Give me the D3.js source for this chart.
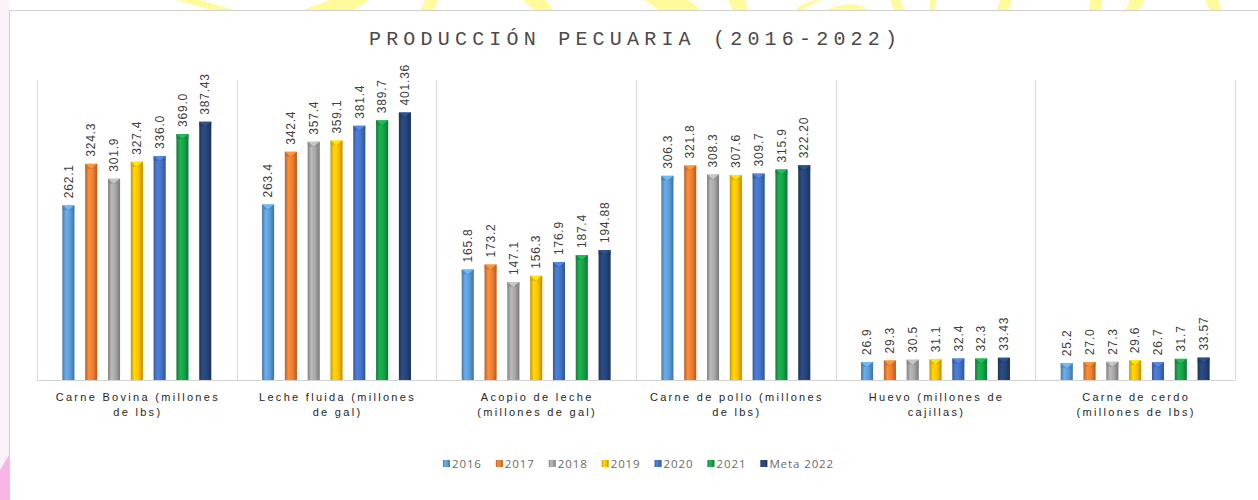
<!DOCTYPE html>
<html>
<head>
<meta charset="utf-8">
<script src="https://cdn.jsdelivr.net/npm/d3@7"></script>
<style>
  body { margin: 0; background: #fff; }
  svg { display: block; }
</style>
</head>
<body>
<div class="chart"></div>
<script>
var svgWidth = 1258;
var svgHeight = 500;

// data
var categories = [
  "Carne Bovina (millones de lbs)",
  "Leche fluida (millones de gal)",
  "Acopio de leche (millones de gal)",
  "Carne de pollo (millones de lbs)",
  "Huevo (millones de cajillas)",
  "Carne de cerdo (millones de lbs)"
];
var categoryLines = [
  ["Carne Bovina (millones", "de lbs)"],
  ["Leche fluida (millones", "de gal)"],
  ["Acopio de leche", "(millones de gal)"],
  ["Carne de pollo (millones", "de lbs)"],
  ["Huevo (millones de", "cajillas)"],
  ["Carne de cerdo", "(millones de lbs)"]
];
var seriesNames = ["2016", "2017", "2018", "2019", "2020", "2021", "Meta 2022"];
var v2016 = [262.1, 263.4, 165.8, 306.3, 26.9, 25.2];
var v2017 = [324.3, 342.4, 173.2, 321.8, 29.3, 27.0];
var v2018 = [301.9, 357.4, 147.1, 308.3, 30.5, 27.3];
var v2019 = [327.4, 359.1, 156.3, 307.6, 31.1, 29.6];
var v2020 = [336.0, 381.4, 176.9, 309.7, 32.4, 26.7];
var v2021 = [369.0, 389.7, 187.4, 315.9, 32.3, 31.7];
var vMeta = [387.43, 401.36, 194.88, 322.20, 33.43, 33.57];
var seriesValues = [v2016, v2017, v2018, v2019, v2020, v2021, vMeta];
var seriesDecimals = [1, 1, 1, 1, 1, 1, 2];
var colors = ["#5b9bd5", "#ed7d31", "#a5a5a5", "#ffc000", "#4472c4", "#18a048", "#264478"];

var plot = { left: 37, right: 1235, top: 80, bottom: 380 };

var svg = d3.select(".chart")
  .append("svg")
  .attr("width", svgWidth)
  .attr("height", svgHeight);

var defs = svg.append("defs");

// background watermark bits (only visible outside the chart box)
var wm = svg.append("g");
wm.append("rect")
  .attr("x", 0).attr("y", 0)
  .attr("width", 9).attr("height", svgHeight)
  .attr("fill", "#fdf1f9");
wm.append("path")
  .attr("d", "M0,500 L0,470 L9,455 L9,500 Z")
  .attr("fill", "#f7b6e6");
var yellowShapes = [
  "M177,0 L200,0 L237,11 L214,11 Z",
  "M300,11 L330,0 L369,0 L352,11 Z",
  "M420,11 L425,0 L438,0 L433,11 Z",
  "M522,0 L545,0 L554,11 L535,11 Z",
  "M644,0 L688,0 L702,11 L660,11 Z",
  "M728,0 L745,0 L748,11 L733,11 Z",
  "M795,11 C800,4 810,0 818,0 L822,0 C812,3 806,7 804,11 Z",
  "M825,11 C840,2 860,2 870,11 Z",
  "M890,0 L900,0 L905,11 L895,11 Z",
  "M930,0 L936,0 L935,11 L930,11 Z",
  "M1000,0 L1012,0 L1008,11 L996,11 Z",
  "M1090,0 L1102,0 L1101,11 L1089,11 Z",
  "M1130,0 L1145,0 L1138,11 L1125,11 Z",
  "M1205,0 L1218,0 L1222,11 L1210,11 Z"
];
wm.selectAll("path.y")
  .data(yellowShapes)
  .enter()
  .append("path")
  .attr("class", "y")
  .attr("d", d => d)
  .attr("fill", "#fffb9a");

// chart box
svg.append("rect")
  .attr("x", 9.5).attr("y", 10.5)
  .attr("width", svgWidth).attr("height", svgHeight)
  .attr("fill", "#ffffff")
  .attr("stroke", "#d0d0d0");

// title
var titleSpacing = 5.2;
svg.append("text")
  .attr("x", 633 + titleSpacing / 2)
  .attr("y", 45)
  .attr("text-anchor", "middle")
  .style("font-family", "'Liberation Mono', 'DejaVu Sans Mono', monospace")
  .style("font-size", "20px")
  .style("letter-spacing", titleSpacing + "px")
  .attr("fill", "#4a4a4a")
  .text("PRODUCCIÓN PECUARIA (2016-2022)");

// scales
var x0 = d3.scaleBand()
  .domain(categories)
  .range([plot.left, plot.right]);

var x1 = d3.scaleBand()
  .domain(seriesNames)
  .range([20, x0.bandwidth() - 20])
  .paddingInner(0.47)
  .paddingOuter(0.235);

var y = d3.scaleLinear()
  .domain([0, 450])
  .range([plot.bottom, plot.top]);

// gridlines: separators between categories
var chartGroup = svg.append("g");
var sepX = categories.map(c => x0(c)).concat([plot.right]);
chartGroup.selectAll("line.sep")
  .data(sepX)
  .enter()
  .append("line")
  .attr("class", "sep")
  .attr("x1", d => Math.round(d) + 0.5)
  .attr("x2", d => Math.round(d) + 0.5)
  .attr("y1", y(450))
  .attr("y2", y(0))
  .attr("stroke", "#dcdcdc");

chartGroup.append("line")
  .attr("x1", plot.left).attr("x2", plot.right)
  .attr("y1", y(0) + 0.5).attr("y2", y(0) + 0.5)
  .attr("stroke", "#d4d4d4");

// gradients per series
seriesNames.forEach(function (s, i) {
  var c = d3.color(colors[i]);
  var g = defs.append("linearGradient")
    .attr("id", "grad" + i)
    .attr("x1", "0%").attr("x2", "100%")
    .attr("y1", "0%").attr("y2", "0%");
  g.append("stop").attr("offset", "0%").attr("stop-color", c.darker(0.7));
  g.append("stop").attr("offset", "30%").attr("stop-color", c.brighter(0.35));
  g.append("stop").attr("offset", "65%").attr("stop-color", c);
  g.append("stop").attr("offset", "100%").attr("stop-color", c.darker(0.9));
});

// flatten data for bars
var barData = [];
seriesNames.forEach(function (s, i) {
  categories.forEach(function (c, j) {
    barData.push({ series: s, si: i, cat: c, value: seriesValues[i][j] });
  });
});

var bw = x1.bandwidth();

var bars = chartGroup.selectAll("g.bar")
  .data(barData)
  .enter()
  .append("g")
  .attr("class", "bar")
  .attr("transform", d => `translate(${x0(d.cat) + x1(d.series)}, 0)`);

bars.append("rect")
  .attr("x", 0)
  .attr("y", d => y(d.value))
  .attr("width", bw)
  .attr("height", d => y(0) - y(d.value))
  .attr("fill", d => `url(#grad${d.si})`);

// small pyramid cap on top
bars.append("path")
  .attr("d", d => {
    var t = y(d.value);
    return `M0,${t} L${bw},${t} L${bw / 2},${t + 5} Z`;
  })
  .attr("fill", d => d3.color(colors[d.si]).brighter(0.6))
  .attr("opacity", 0.8);

bars.append("path")
  .attr("d", d => {
    var t = y(d.value);
    return `M0,${t} L${bw / 2},${t + 5} L0,${t + 5} Z M${bw},${t} L${bw / 2},${t + 5} L${bw},${t + 5} Z`;
  })
  .attr("fill", d => d3.color(colors[d.si]).darker(0.5))
  .attr("opacity", 0.6);

// data labels
bars.append("text")
  .attr("transform", d => `translate(${bw / 2}, ${y(d.value) - 7}) rotate(-90)`)
  .attr("dy", "0.35em")
  .style("font-family", "'Liberation Sans', Arial, sans-serif")
  .style("font-size", "12px")
  .style("letter-spacing", "0.8px")
  .attr("fill", "#404040")
  .text(d => d3.format("." + seriesDecimals[d.si] + "f")(d.value));

// category labels
var catLabels = chartGroup.selectAll("text.cat")
  .data(categories)
  .enter()
  .append("text")
  .attr("class", "cat")
  .attr("text-anchor", "middle")
  .style("font-family", "'Liberation Sans', Arial, sans-serif")
  .style("font-size", "11px")
  .style("letter-spacing", "2.3px")
  .attr("fill", "#262626");

catLabels.each(function (c, j) {
  var t = d3.select(this);
  categoryLines[j].forEach(function (line, k) {
    t.append("tspan")
      .attr("x", x0(c) + x0.bandwidth() / 2 + 1)
      .attr("y", 401 + k * 15)
      .text(line);
  });
});

// legend
var legend = svg.append("g");
var items = legend.selectAll("g.item")
  .data(seriesNames)
  .enter()
  .append("g")
  .attr("class", "item");

items.append("rect")
  .attr("x", 0).attr("y", -8)
  .attr("width", 7).attr("height", 7)
  .attr("fill", (d, i) => `url(#grad${i})`);

items.append("text")
  .attr("x", 9)
  .attr("y", 0)
  .style("font-family", "'Open Sans', 'Liberation Sans', sans-serif")
  .style("font-size", "11.5px")
  .style("letter-spacing", "0.9px")
  .attr("fill", "#6a6a6a")
  .text(d => d);

var offs = [];
var cur = 0;
items.each(function () {
  var w = d3.select(this).select("text").node().getComputedTextLength();
  offs.push(cur);
  cur += 9 + w + 14;
});
var total = cur - 14;
var legendX = 638.5 - total / 2;
items.attr("transform", (d, i) => `translate(${legendX + offs[i]}, 468)`);
</script>
</body>
</html>
